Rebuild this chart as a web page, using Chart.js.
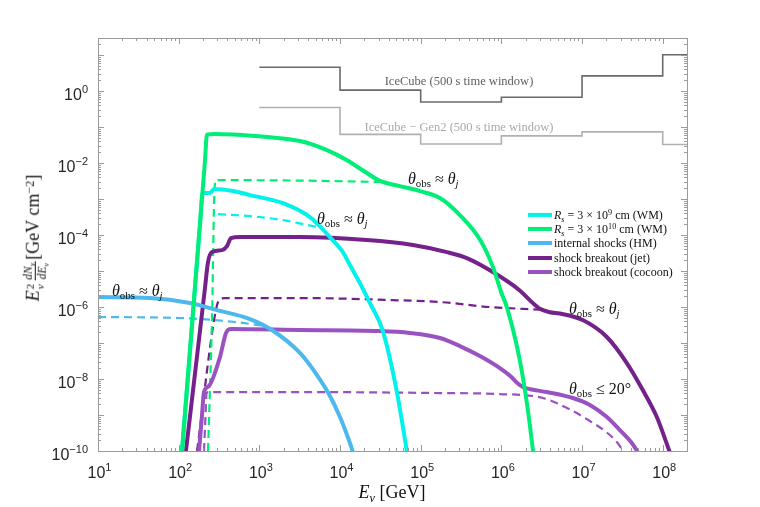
<!DOCTYPE html>
<html>
<head>
<meta charset="utf-8">
<script src="https://cdn.jsdelivr.net/npm/chart.js@4.4.0/dist/chart.umd.min.js"></script>
<style>
  html, body { margin:0; padding:0; background:#fff; }
  #wrap { position:relative; width:760px; height:507px; overflow:hidden; }
  canvas { position:absolute; left:0; top:0; }
  .t { position:absolute; white-space:nowrap; font-family:'Liberation Serif','DejaVu Serif',serif; color:#111; line-height:1; }
  .c { transform:translate(-50%,-50%); }
  .l { transform:translate(0,-50%); }
  .sb { font-size:0.68em; position:relative; top:0.32em; }
  .sp { font-size:0.68em; position:relative; top:-0.45em; }
  .ann { font-size:16px; }
  .leg { font-size:12px; display:flex; align-items:center; }
  .sw { display:inline-block; width:24px; height:4px; margin-right:2px; }
  .supsub { display:inline-flex; flex-direction:column; font-size:0.62em; line-height:0.95; vertical-align:middle; margin-left:1px; }
  .frac { display:inline-flex; flex-direction:column; font-size:0.64em; line-height:1.05; vertical-align:middle; text-align:center; margin:0 2px 0 3px; }
  .frac > span:first-child { border-bottom:1px solid #111; padding:0 1px 1px 1px; }
</style>
</head>
<body>
<div id="wrap">
  <canvas id="chart" width="760" height="507"></canvas>

  <div class="t c" style="left:459px; top:81px; font-size:12.5px; color:#5f5f5f;">IceCube (500 s time window)</div>
  <div class="t c" style="left:459px; top:127px; font-size:12.5px; color:#a9a9a9;">IceCube − Gen2 (500 s time window)</div>

  <div class="t l ann" style="left:112px; top:291px;"><i>θ</i><span class="sb">obs</span> ≈ <i>θ</i><span class="sb"><i>j</i></span></div>
  <div class="t l ann" style="left:317px; top:219px;"><i>θ</i><span class="sb">obs</span> ≈ <i>θ</i><span class="sb"><i>j</i></span></div>
  <div class="t l ann" style="left:408px; top:179px;"><i>θ</i><span class="sb">obs</span> ≈ <i>θ</i><span class="sb"><i>j</i></span></div>
  <div class="t l ann" style="left:569px; top:309px;"><i>θ</i><span class="sb">obs</span> ≈ <i>θ</i><span class="sb"><i>j</i></span></div>
  <div class="t l ann" style="left:569px; top:389px;"><i>θ</i><span class="sb">obs</span> ≤ 20°</div>

  <div class="t l leg" style="left:528px; top:215px;"><span class="sw" style="background:#00f2ea"></span><span><i>R</i><span class="sb"><i>s</i></span> = 3 × 10<span class="sp">9</span> cm (WM)</span></div>
  <div class="t l leg" style="left:528px; top:229px;"><span class="sw" style="background:#00ee77"></span><span><i>R</i><span class="sb"><i>s</i></span> = 3 × 10<span class="sp">10</span> cm (WM)</span></div>
  <div class="t l leg" style="left:528px; top:243px;"><span class="sw" style="background:#4db8ee"></span><span>internal shocks (HM)</span></div>
  <div class="t l leg" style="left:528px; top:258px;"><span class="sw" style="background:#74218b"></span><span>shock breakout (jet)</span></div>
  <div class="t l leg" style="left:528px; top:272px;"><span class="sw" style="background:#9a52c0"></span><span>shock breakout (cocoon)</span></div>

  <div class="t c" style="left:392px; top:492px; font-size:18px;"><i>E</i><span class="sb"><i>ν</i></span> [GeV]</div>
  <div class="t" style="left:35px; top:238px; font-size:18px; transform:translate(-50%,-50%) rotate(-90deg);"><i>E</i><span class="supsub"><span>2</span><span><i>ν</i></span></span><span class="frac"><span><i>dN</i><span class="sb"><i>ν</i></span></span><span><i>dE</i><span class="sb"><i>ν</i></span></span></span>[GeV cm<span class="sp">−2</span>]</div>
</div>

<script>
// ---------- data (E in GeV, flux E^2 dN/dE in GeV cm^-2) ----------
const xTicks = [1e1, 1e2, 1e3, 1e4, 1e5, 1e6, 1e7, 1e8];
const yTicks = [1e-10, 1e-8, 1e-6, 1e-4, 1e-2, 1e0];

const iceE  = [1e3, 1e4, 1e5, 1e6, 1e7, 1e8, 2e8];
const iceF  = [4.6, 1.07, 0.50, 0.68, 2.66, 10.3, 10.3];
const gen2F = [0.35, 0.063, 0.034, 0.057, 0.074, 0.033, 0.033];

const greenE = [110, 212, 224, 282, 471, 1242, 3184, 6887, 12190, 21530, 31190, 55200, 97700, 173000, 306000, 542000, 786000, 1000000, 1170000, 1690000, 2130000, 2500000];
const greenF = [1e-10, 0.0119, 0.062, 0.0646, 0.062, 0.053, 0.041, 0.023, 0.0121, 0.0053, 0.0032, 0.0023, 0.00167, 0.00107, 3.6e-4, 7.5e-5, 1.3e-5, 2.5e-6, 1.0e-6, 3.4e-8, 1.4e-9, 8e-11];
const greenDashE = [231, 259, 278, 290, 3184, 31190];
const greenDashF = [1e-10, 5.3e-7, 1.78e-3, 3.37e-3, 3.27e-3, 3.0e-3];

const cyanE = [110, 186, 197, 244, 274, 471, 766, 1959, 4236, 7500, 10860, 13270, 17660, 23500, 34000, 50700, 67400];
const cyanF = [1e-10, 2.89e-4, 1.47e-3, 1.47e-3, 1.9e-3, 1.67e-3, 1.29e-3, 7.7e-4, 3.16e-4, 8.8e-5, 3.37e-5, 1.47e-5, 4.64e-6, 1.29e-6, 2.15e-7, 4.35e-9, 1e-10];
const cyanDashE = [307, 766, 1959, 3470, 5320];
const cyanDashF = [3.83e-4, 3.37e-4, 2.61e-4, 2.02e-4, 1.67e-4];

const blueE = [10, 44, 138, 298, 766, 1432, 3184, 5180, 7280, 9990, 13270, 14860];
const blueF = [1.9e-6, 1.78e-6, 1.29e-6, 8.25e-7, 4.64e-7, 2.3e-7, 5.3e-8, 1.29e-8, 3.83e-9, 8.8e-10, 1.67e-10, 7.7e-11];
const blueDashE = [10, 104, 282, 575, 1076];
const blueDashF = [5.3e-7, 4.95e-7, 4.35e-7, 3.7e-7, 3.06e-7];

const jetE = [123, 212, 231, 259, 344, 397, 445, 575, 3184, 21530, 80000, 211000, 373000, 785000, 1690000, 2250000, 3000000, 3990000, 5300000, 10200000, 20300000, 35900000, 56600000, 84500000, 122000000];
const jetF = [1e-10, 3.41e-6, 1.78e-5, 3.37e-5, 3.83e-5, 4.95e-5, 8.25e-5, 8.8e-5, 8.8e-5, 7.3e-5, 5.3e-5, 3.37e-5, 2.3e-5, 9.4e-6, 2.9e-6, 1.56e-6, 9.0e-7, 7.2e-7, 6.6e-7, 4.35e-7, 1.47e-7, 2.78e-8, 4.95e-9, 8.8e-10, 9.4e-11];
const jetDashE = [169, 290, 325, 375, 3184, 45300, 173000, 720000, 3000000];
const jetDashF = [1e-10, 8.5e-7, 1.67e-6, 1.78e-6, 1.78e-6, 1.56e-6, 1.38e-6, 1.0e-6, 8.5e-7];

const cocoonE = [179, 194.5, 206, 237, 325, 386, 445, 3184, 31200, 73500, 173000, 306000, 542000, 957000, 1300000, 1560000, 1850000, 2300000, 3660000, 7700000, 12500000, 20300000, 29400000, 41400000, 49100000];
const cocoonF = [1e-10, 9.6e-10, 4.35e-9, 6.4e-9, 4.08e-8, 1.9e-7, 2.45e-7, 2.3e-7, 2.15e-7, 1.9e-7, 1.38e-7, 8.25e-8, 4.35e-8, 2.02e-8, 1.2e-8, 7.9e-9, 6.0e-9, 5.2e-9, 4.35e-9, 2.97e-9, 1.9e-9, 8.8e-10, 3.83e-10, 1.67e-10, 9.4e-11];
const cocoonDashE = [206, 218, 221, 237, 3184, 173000, 957000, 3270000, 7700000, 12500000, 19200000, 27000000, 33000000];
const cocoonDashF = [1e-10, 1.9e-9, 4.08e-9, 4.35e-9, 4.35e-9, 4.08e-9, 3.83e-9, 2.97e-9, 1.29e-9, 6.8e-10, 3.6e-10, 1.78e-10, 9.4e-11];

// ---------- colours ----------
const C_GREEN = '#00ee77', C_CYAN = '#00f2ea', C_BLUE = '#4db8ee', C_JET = '#74218b', C_COC = '#9a52c0';

const pts = (E, F) => E.map((e, i) => ({ x: e, y: F[i] }));
function solid(E, F, color) {
  return { data: pts(E, F), borderColor: color, borderWidth: 4, showLine: true, pointRadius: 0,
           cubicInterpolationMode: 'monotone', borderJoinStyle: 'round', clip: 1 };
}
function dashed(E, F, color) {
  return { data: pts(E, F), borderColor: color, borderWidth: 2.2, borderDash: [8, 5], showLine: true, pointRadius: 0,
           cubicInterpolationMode: 'monotone', clip: 1 };
}
function step(E, F, color) {
  return { data: pts(E, F), borderColor: color, borderWidth: 1.6, showLine: true, pointRadius: 0, stepped: true, clip: 1 };
}

const expOf = v => String(Math.round(Math.log10(v))).replace('-', '−');
const TICK_FONT = "'Liberation Sans', Arial, sans-serif";

// tick marks, tick labels and frame, placed through the chart's own scales
const framePlugin = {
  id: 'frame',
  afterDraw(chart) {
    const { ctx, chartArea: a, scales } = chart;
    const xs = scales.x, ys = scales.y;
    ctx.save();
    ctx.strokeStyle = '#9b9b9b';
    ctx.lineWidth = 1;
    ctx.beginPath();
    for (let n = 1; n <= 8; n++) {
      for (let k = 1; k <= 9; k++) {
        const v = k * Math.pow(10, n);
        if (v < xs.min || v > xs.max) continue;
        const px = Math.round(xs.getPixelForValue(v)) + 0.5;
        const len = k === 1 ? 6 : 3;
        ctx.moveTo(px, a.bottom); ctx.lineTo(px, a.bottom - len);
        ctx.moveTo(px, a.top); ctx.lineTo(px, a.top + len);
      }
    }
    for (let n = -10; n <= 1; n++) {
      for (let k = 1; k <= 9; k++) {
        const v = k * Math.pow(10, n);
        if (v < ys.min || v > ys.max) continue;
        const py = Math.round(ys.getPixelForValue(v)) + 0.5;
        const len = k === 1 ? 6 : 3;
        ctx.moveTo(a.left, py); ctx.lineTo(a.left + len, py);
        ctx.moveTo(a.right, py); ctx.lineTo(a.right - len, py);
      }
    }
    ctx.stroke();
    ctx.strokeRect(Math.round(a.left) + 0.5, Math.round(a.top) + 0.5, Math.round(a.right - a.left), Math.round(a.bottom - a.top));

    // tick labels 10^n with a real raised exponent
    ctx.fillStyle = '#262626';
    ctx.textBaseline = 'alphabetic';
    ctx.textAlign = 'left';
    const baseFont = '16px ' + TICK_FONT, expFont = '11px ' + TICK_FONT;
    xTicks.forEach(v => {
      const px = xs.getPixelForValue(v);
      const e = expOf(v);
      ctx.font = baseFont; const wb = ctx.measureText('10').width;
      ctx.font = expFont;  const we = ctx.measureText(e).width;
      const x0 = px - (wb + we) / 2 + 1.5;
      ctx.font = baseFont; ctx.fillText('10', x0, a.bottom + 27);
      ctx.font = expFont;  ctx.fillText(e, x0 + wb, a.bottom + 20);
    });
    yTicks.forEach(v => {
      const py = ys.getPixelForValue(v);
      const e = expOf(v);
      ctx.font = baseFont; const wb = ctx.measureText('10').width;
      ctx.font = expFont;  const we = ctx.measureText(e).width;
      const xr = a.left - 10;
      ctx.font = expFont;  ctx.fillText(e, xr - we, py + 2);
      ctx.font = baseFont; ctx.fillText('10', xr - we - wb, py + 9);
    });
    ctx.restore();
  }
};

new Chart(document.getElementById('chart'), {
  type: 'scatter',
  data: {
    datasets: [
      solid(greenE, greenF, C_GREEN),
      solid(cyanE, cyanF, C_CYAN),
      solid(blueE, blueF, C_BLUE),
      solid(jetE, jetF, C_JET),
      solid(cocoonE, cocoonF, C_COC),
      dashed(greenDashE, greenDashF, C_GREEN),
      dashed(cyanDashE, cyanDashF, C_CYAN),
      dashed(blueDashE, blueDashF, C_BLUE),
      dashed(jetDashE, jetDashF, C_JET),
      dashed(cocoonDashE, cocoonDashF, C_COC),
      step(iceE, iceF, '#6a6a6a'),
      step(iceE, gen2F, '#b0b0b0')
    ]
  },
  options: {
    responsive: false,
    animation: false,
    events: [],
    layout: { padding: { left: 0, right: 73, top: 38, bottom: 0 } },
    plugins: { legend: { display: false }, tooltip: { enabled: false } },
    scales: {
      x: {
        type: 'logarithmic', min: 10, max: 2e8,
        afterBuildTicks: s => { s.ticks = xTicks.map(v => ({ value: v })); },
        afterFit: s => { s.height = 56; },
        grid: { display: false }, border: { display: false },
        ticks: { display: false }
      },
      y: {
        type: 'logarithmic', min: 1e-10, max: 30,
        afterBuildTicks: s => { s.ticks = yTicks.map(v => ({ value: v })); },
        afterFit: s => { s.width = 98; },
        grid: { display: false }, border: { display: false },
        ticks: { display: false }
      }
    }
  },
  plugins: [framePlugin]
});
</script>
</body>
</html>
